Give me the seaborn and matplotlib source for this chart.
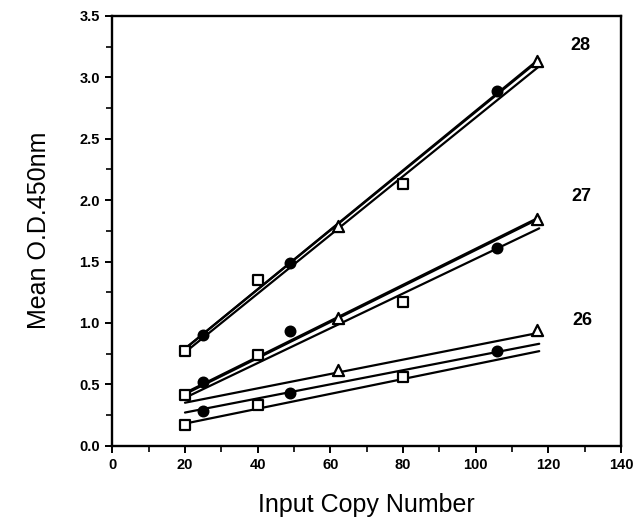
import pandas as pd
import matplotlib
matplotlib.use("Agg")
import matplotlib.pyplot as plt
import seaborn as sns
from matplotlib.ticker import MultipleLocator, FormatStrFormatter

# 各組的輸入拷貝數 (x)
square_x = [20, 40, 80]
circle_x = [25, 49, 106]
triangle_x = [62, 117]

# 各組的平均 O.D.
square_28 = [0.77, 1.35, 2.13]
circle_28 = [0.90, 1.49, 2.89]
triangle_28 = [1.79, 3.13]

square_27 = [0.41, 0.74, 1.17]
circle_27 = [0.52, 0.93, 1.61]
triangle_27 = [1.04, 1.85]

square_26 = [0.17, 0.33, 0.56]
circle_26 = [0.28, 0.43, 0.77]
triangle_26 = [0.62, 0.94]

# 迴歸線兩端 (x = 20 與 117.5)
fit_x = [20, 117.5]
fit_28 = {"square": [0.76, 3.09], "circle": [0.79, 3.15], "triangle": [0.79, 3.14]}
fit_27 = {"square": [0.42, 1.85], "circle": [0.39, 1.77], "triangle": [0.43, 1.86]}
fit_26 = {"square": [0.18, 0.77], "circle": [0.27, 0.83], "triangle": [0.35, 0.92]}

group_labels = ["28", "27", "26"]
label_x = [128.7, 129.0, 129.5]
label_y = [3.26, 2.03, 1.02]

black = {"axes.edgecolor": "black", "text.color": "black", "axes.labelcolor": "black",
         "xtick.color": "black", "ytick.color": "black"}
sns.set_style("ticks", black)
plt.rcParams["font.family"] = ["Liberation Sans", "DejaVu Sans"]

fig = plt.figure(figsize=(6.36, 5.23), dpi=100)
ax = fig.add_axes([0.1766, 0.1478, 0.7998, 0.8218])

# 畫迴歸線
for fits in [fit_28, fit_27, fit_26]:
    for name, ys in fits.items():
        df_line = pd.DataFrame({"x": fit_x, "y": ys})
        sns.lineplot(data=df_line, x="x", y="y", ax=ax, color="black",
                     linewidth=1.6, estimator=None, sort=False)

# 畫資料點
series = [
    (square_x, square_28 + square_27 + square_26, "s", "white", 7),
    (circle_x, circle_28 + circle_27 + circle_26, "o", "black", 7),
    (triangle_x, triangle_28 + triangle_27 + triangle_26, "^", "white", 8),
]
for xs, ys, marker, face, size in series:
    df_pts = pd.DataFrame({"x": xs * 3, "y": ys})
    sns.scatterplot(data=df_pts, x="x", y="y", ax=ax, marker=marker,
                    s=size ** 2, facecolor=face, edgecolor="black",
                    linewidth=1.6, zorder=5)

for text, tx, ty in zip(group_labels, label_x, label_y):
    ax.text(tx, ty, text, fontsize=13, fontweight="bold", ha="center", va="center")

ax.set_xlim(0, 140)
ax.set_ylim(0, 3.5)
ax.xaxis.set_major_locator(MultipleLocator(20))
ax.xaxis.set_minor_locator(MultipleLocator(10))
ax.yaxis.set_major_locator(MultipleLocator(0.5))
ax.yaxis.set_minor_locator(MultipleLocator(0.25))
ax.yaxis.set_major_formatter(FormatStrFormatter("%.1f"))
ax.tick_params(which="major", direction="out", length=5, width=1.4,
               labelsize=10.5, pad=4)
ax.tick_params(which="minor", direction="out", length=4, width=1.2)
for lab in ax.get_xticklabels() + ax.get_yticklabels():
    lab.set_fontweight("bold")
for sp in ax.spines.values():
    sp.set_linewidth(1.7)
    sp.set_visible(True)

ax.set_xlabel("Input Copy Number", fontsize=18, labelpad=15)
ax.set_ylabel("Mean O.D.450nm", fontsize=18, labelpad=20)

fig.savefig("out.png", dpi=100)
